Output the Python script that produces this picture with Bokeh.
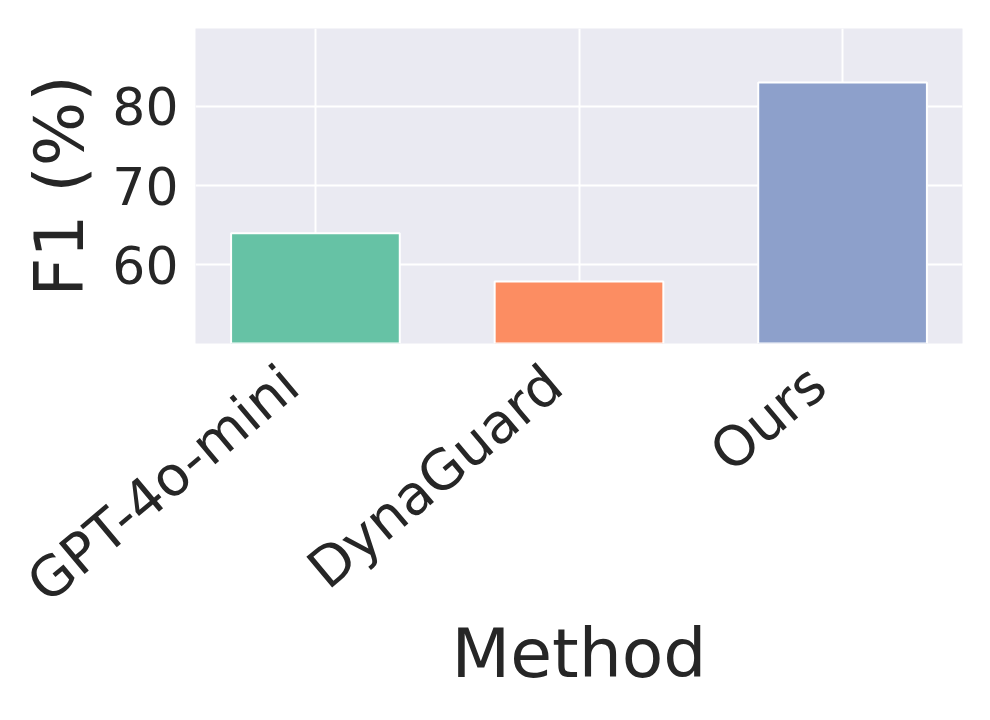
import numpy as np
from bokeh.plotting import figure
from bokeh.models import Range1d, FixedTicker, ColumnDataSource, LinearAxis
from bokeh.embed import file_html
from bokeh.resources import INLINE

methods = ["GPT-4o-mini", "DynaGuard", "Ours"]
f1_scores = [64.0, 57.9, 83.0]
bar_colors = ["#66c2a5", "#fc8d62", "#8da0cb"]
y_ticks = [60, 70, 80]

x_pos = list(range(len(methods)))
y_base = 50.1
x_lo, x_hi = -0.455, 2.455
label_shift = 25 / 264.5  # rotated labels anchored slightly left of tick (like mpl ha='right')
src = ColumnDataSource(dict(x=x_pos, top=f1_scores, color=bar_colors))

p = figure(width=974, height=704, output_backend="svg", toolbar_location=None,
           x_range=Range1d(x_lo, x_hi), y_range=Range1d(y_base, 89.8),
           frame_width=767, frame_height=315,
           min_border_left=195, min_border_top=28, min_border_right=12, min_border_bottom=361)
p.extra_x_ranges = {"labels": Range1d(x_lo + label_shift, x_hi + label_shift)}

p.background_fill_color = "#eaeaf2"
p.border_fill_color = "white"
p.outline_line_color = None

p.vbar(x="x", top="top", bottom=y_base, width=0.64, fill_color="color",
       line_color="white", line_width=2, source=src)

p.xaxis.visible = False

xax = LinearAxis(x_range_name="labels")
p.add_layout(xax, "below")

for ax in (xax, p.yaxis[0]):
    ax.axis_line_color = None
    ax.major_tick_line_color = None
    ax.minor_tick_line_color = None
    ax.major_tick_out = 0
    ax.major_tick_in = 0
    ax.minor_tick_out = 0
    ax.minor_tick_in = 0
    ax.major_label_text_font = "DejaVu Sans"
    ax.major_label_text_color = "#262626"
    ax.axis_label_text_font = "DejaVu Sans"
    ax.axis_label_text_color = "#262626"
    ax.axis_label_text_font_size = "68px"
    ax.axis_label_text_font_style = "normal"

xax.ticker = FixedTicker(ticks=x_pos)
xax.major_label_overrides = {i: m for i, m in enumerate(methods)}
xax.major_label_orientation = np.deg2rad(40)
xax.major_label_text_font_size = "55px"
xax.major_label_standoff = 33
xax.axis_label = "Method"
xax.axis_label_standoff = -28

p.yaxis.ticker = FixedTicker(ticks=y_ticks)
p.yaxis.major_label_text_font_size = "52px"
p.yaxis.major_label_standoff = 17
p.yaxis.axis_label = "F1 (%)"
p.yaxis.axis_label_standoff = 10

p.xgrid.ticker = FixedTicker(ticks=x_pos)
p.ygrid.ticker = FixedTicker(ticks=y_ticks)
p.grid.grid_line_color = "white"
p.grid.grid_line_width = 2

open("out.html", "w").write(file_html(p, INLINE))
